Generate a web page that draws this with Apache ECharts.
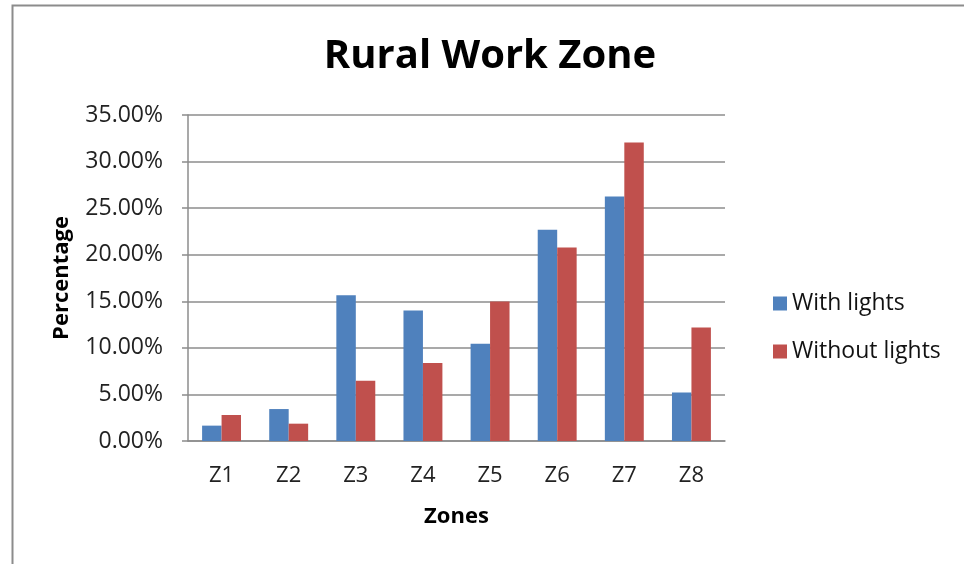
<!DOCTYPE html>
<html>
<head>
<meta charset="utf-8">
<script src="https://cdn.jsdelivr.net/npm/echarts@6/dist/echarts.min.js"></script>
<style>html,body{margin:0;padding:0;background:#fff}#c{width:964px;height:564px}</style>
</head>
<body>
<div id="c"></div>
<script>
const categories = ['Z1','Z2','Z3','Z4','Z5','Z6','Z7','Z8'];
const withLights = [1.65, 3.43, 15.66, 14.01, 10.44, 22.67, 26.25, 5.21];
const withoutLights = [2.79, 1.86, 6.47, 8.37, 14.98, 20.77, 32.04, 12.19];
const seriesNames = ['With lights', 'Without lights'];
const titleText = 'Rural Work Zone';
const xName = 'Zones';
const yName = 'Percentage';

const FONT = 'Open Sans';
const chart = echarts.init(document.getElementById('c'), null, {renderer: 'canvas'});
chart.setOption({
  backgroundColor: '#fff',
  animation: false,
  graphic: [{
    type: 'rect', left: 10, top: 3, shape: {width: 970, height: 580},
    style: {fill: 'none', stroke: '#8c8c8c', lineWidth: 2}, silent: true
  }],
  title: {
    text: titleText, left: 485, top: 32, textAlign: 'center',
    textStyle: {fontFamily: FONT, fontWeight: 'bold', fontSize: 40, color: '#000'}
  },
  legend: {
    orient: 'vertical', left: 768, top: 287, itemGap: 25,
    icon: 'rect', itemWidth: 14, itemHeight: 14,
    textStyle: {fontFamily: FONT, fontSize: 23, color: '#111'},
    data: seriesNames
  },
  grid: {left: 188, right: 239, top: 115, bottom: 123, containLabel: false},
  xAxis: {
    type: 'category', data: categories,
    name: xName, nameLocation: 'middle', nameGap: 65,
    nameTextStyle: {fontFamily: FONT, fontWeight: 'bold', fontSize: 22, color: '#000'},
    axisLine: {lineStyle: {color: '#8c8c8c', width: 1.5}},
    axisTick: {show: false},
    axisLabel: {fontFamily: FONT, fontSize: 22, color: '#222', margin: 24}
  },
  yAxis: {
    type: 'value', min: 0, max: 35, interval: 5,
    name: yName, nameLocation: 'middle', nameGap: 115, nameRotate: 90,
    nameTextStyle: {fontFamily: FONT, fontWeight: 'bold', fontSize: 22, color: '#000'},
    axisLine: {show: true, lineStyle: {color: '#8c8c8c', width: 1.5}},
    axisTick: {show: true, length: 6, inside: false, lineStyle: {color: '#8c8c8c', width: 1.5}},
    splitLine: {lineStyle: {color: '#8c8c8c', width: 1.5}},
    axisLabel: {fontFamily: FONT, fontSize: 23, color: '#222', margin: 25,
      formatter: v => v.toFixed(2) + '%'}
  },
  series: [
    {name: seriesNames[0], type: 'bar', data: withLights, barGap: '0%', barCategoryGap: '42%',
     itemStyle: {color: '#4F81BD'}},
    {name: seriesNames[1], type: 'bar', data: withoutLights, barGap: '0%', barCategoryGap: '42%',
     itemStyle: {color: '#C0504D'}}
  ]
});
</script>
</body>
</html>
